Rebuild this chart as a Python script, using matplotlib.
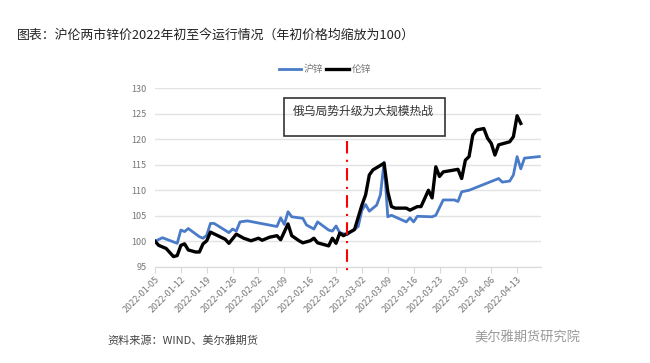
import matplotlib
matplotlib.use('Agg')
import matplotlib.pyplot as plt
import matplotlib.dates as mdates
from matplotlib.patches import Rectangle
import pandas as pd

plt.rcParams['font.family'] = ['Noto Sans CJK SC', 'DejaVu Sans']

# 沪锌 (blue)
shfe_dates = ['2022-01-05', '2022-01-07', '2022-01-11', '2022-01-12', '2022-01-13', '2022-01-14',
              '2022-01-17', '2022-01-18', '2022-01-19', '2022-01-20', '2022-01-21', '2022-01-25',
              '2022-01-26', '2022-01-27', '2022-01-28', '2022-01-30', '2022-02-07', '2022-02-08',
              '2022-02-09', '2022-02-10', '2022-02-11', '2022-02-14', '2022-02-15', '2022-02-17',
              '2022-02-18', '2022-02-21', '2022-02-22', '2022-02-23', '2022-02-24', '2022-02-26',
              '2022-03-01', '2022-03-02', '2022-03-03', '2022-03-04', '2022-03-06', '2022-03-07',
              '2022-03-08', '2022-03-09', '2022-03-10', '2022-03-14', '2022-03-15', '2022-03-16',
              '2022-03-17', '2022-03-21', '2022-03-22', '2022-03-24', '2022-03-27', '2022-03-28',
              '2022-03-29', '2022-03-31', '2022-04-08', '2022-04-09', '2022-04-11', '2022-04-12',
              '2022-04-13', '2022-04-14', '2022-04-15', '2022-04-19']
shfe_vals = [100.0, 100.7, 99.6, 102.2, 101.9, 102.5,
             100.9, 100.6, 101.2, 103.5, 103.5, 101.7,
             102.4, 102.0, 103.8, 104.0, 102.9, 104.6,
             103.3, 105.8, 104.8, 104.5, 103.2, 102.4,
             103.8, 102.2, 102.0, 103.0, 101.7, 101.3,
             102.9, 106.1, 107.2, 105.9, 107.1, 109.1,
             115.5, 104.8, 105.1, 103.8, 104.6, 103.8,
             104.9, 104.8, 105.1, 108.1, 108.1, 107.8,
             109.7, 110.0, 112.3, 111.6, 111.8, 113.0,
             116.6, 114.2, 116.3, 116.6]

# 伦锌 (black)
lme_dates = ['2022-01-05', '2022-01-06', '2022-01-08', '2022-01-10', '2022-01-11', '2022-01-12',
             '2022-01-13', '2022-01-14', '2022-01-16', '2022-01-17', '2022-01-18', '2022-01-19',
             '2022-01-20', '2022-01-22', '2022-01-24', '2022-01-25', '2022-01-27', '2022-01-29',
             '2022-01-31', '2022-02-02', '2022-02-03', '2022-02-05', '2022-02-07', '2022-02-08',
             '2022-02-10', '2022-02-11', '2022-02-13', '2022-02-14', '2022-02-16', '2022-02-17',
             '2022-02-18', '2022-02-21', '2022-02-22', '2022-02-23', '2022-02-24', '2022-02-25',
             '2022-02-28', '2022-03-02', '2022-03-03', '2022-03-04', '2022-03-05', '2022-03-08',
             '2022-03-09', '2022-03-10', '2022-03-11', '2022-03-14', '2022-03-15', '2022-03-17',
             '2022-03-18', '2022-03-20', '2022-03-21', '2022-03-22', '2022-03-23', '2022-03-24',
             '2022-03-28', '2022-03-29', '2022-03-30', '2022-03-31', '2022-04-01', '2022-04-02',
             '2022-04-04', '2022-04-05', '2022-04-06', '2022-04-07', '2022-04-08', '2022-04-11',
             '2022-04-12', '2022-04-13', '2022-04-14']
lme_vals = [100.0, 99.2, 98.6, 97.0, 97.2, 99.2,
            99.5, 98.3, 97.9, 97.9, 99.5, 100.1,
            101.8, 101.1, 100.4, 99.6, 101.4, 100.6,
            100.1, 100.6, 100.2, 100.8, 101.1, 100.3,
            103.4, 101.1, 100.1, 99.7, 100.1, 100.6,
            99.7, 99.1, 100.6, 99.6, 101.6, 101.1,
            102.3, 107.1, 109.1, 113.0, 114.0, 115.3,
            109.7, 106.8, 106.5, 106.5, 106.1, 106.8,
            106.8, 110.0, 108.5, 114.6, 112.7, 113.6,
            114.1, 112.3, 115.9, 116.6, 120.8, 121.8,
            122.1, 120.2, 119.2, 116.9, 118.9, 119.5,
            120.5, 124.6, 123.1]

event_date = '2022-02-26'
event_text = '俄乌局势升级为大规模热战'

fig = plt.figure(figsize=(6.5, 3.63), dpi=100)
ax = fig.add_axes([0.2385, 0.265, 0.5935, 0.492])

ax.plot(pd.to_datetime(shfe_dates), shfe_vals, color='#4a7bc8', lw=2.0, label='沪锌')
ax.plot(pd.to_datetime(lme_dates), lme_vals, color='black', lw=2.4, label='伦锌')

ev = pd.Timestamp(event_date)
ax.plot([ev, ev], [119.6, 93.6], color='red', lw=1.5, ls=(0, (6, 3, 1, 3)), clip_on=False)

x0 = mdates.date2num(pd.Timestamp('2022-02-09'))
x1 = mdates.date2num(pd.Timestamp('2022-03-24 10:00'))
ax.add_patch(Rectangle((x0, 120.6), x1 - x0, 7.5, fill=False, edgecolor='#333333', lw=1.2))
ax.text(mdates.date2num(pd.Timestamp('2022-02-11 06:00')), 125.4, event_text,
        fontsize=8.5, color='#333333', va='center', ha='left')

ax.set_ylim(95, 130)
ax.set_yticks(range(95, 131, 5))
ax.set_xlim(pd.Timestamp('2022-01-05'), pd.Timestamp('2022-04-19 10:00'))
ticks = pd.date_range('2022-01-05', '2022-04-13', freq='7D')
ax.set_xticks(ticks)
ax.set_xticklabels([t.strftime('%Y-%m-%d') for t in ticks], rotation=45, ha='right',
                   rotation_mode='anchor', fontsize=6.5, color='#777777')
ax.tick_params(axis='y', labelsize=6.5, labelcolor='#777777', length=0, pad=6)
ax.tick_params(axis='x', length=4, color='#d9d9d9', pad=2)
ax.grid(axis='y', color='#e3e3e3', lw=1)
ax.set_axisbelow(True)
for s in ['top', 'right', 'left']:
    ax.spines[s].set_visible(False)
ax.spines['bottom'].set_color('#d9d9d9')

fig.legend(loc='center', bbox_to_anchor=(0.5, 0.81), ncol=2, frameon=False,
           fontsize=7, handlelength=2.3, columnspacing=0.3, handletextpad=0.3,
           labelcolor='#777777')

fig.text(0.026, 0.904, '图表：沪伦两市锌价2022年初至今运行情况（年初价格均缩放为100）',
         fontsize=9.3, color='#222222', va='center')
fig.text(0.165, 0.063, '资料来源：WIND、美尔雅期货', fontsize=8, color='#444444', va='center')
fig.text(0.73, 0.068, '美尔雅期货研究院', fontsize=9.5, color='#999999', va='center')

fig.savefig('out.png', dpi=100)
